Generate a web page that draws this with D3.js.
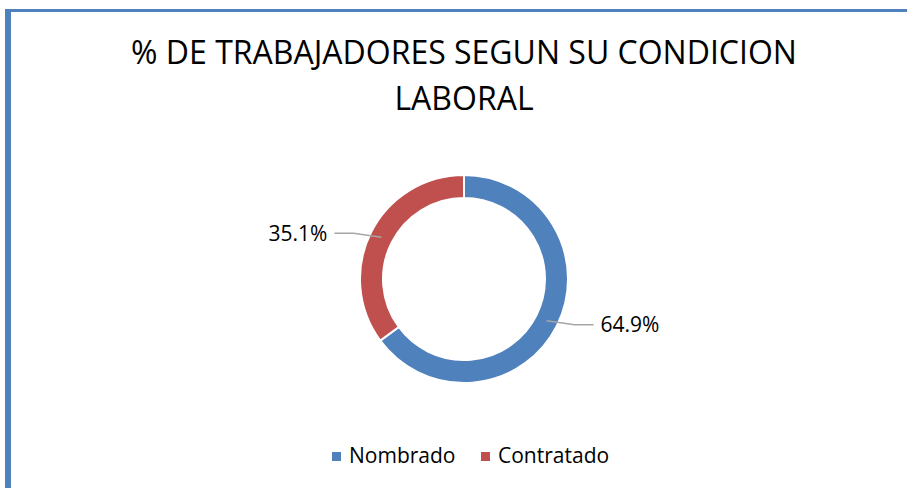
<!DOCTYPE html>
<html>
<head>
<meta charset="utf-8">
<script src="https://cdn.jsdelivr.net/npm/d3@7"></script>
<style>
  body { margin: 0; background: #fff; }
  svg { display: block; font-family: "Open Sans", sans-serif; }
</style>
</head>
<body>
<div id="plot"></div>
<script>
// data
var categories = ['Nombrado', 'Contratado'];
var values = [64.9, 35.1];
var labels = ['64.9%', '35.1%'];
var colors = ['#4f81bd', '#c0504d'];
var titleLines = ['% DE TRABAJADORES SEGUN SU CONDICION', 'LABORAL'];

var width = 907, height = 488;
var cx = 464, cy = 279;
var rOuter = 104, rInner = 81;

var svg = d3.select('#plot')
  .append('svg')
  .attr('width', width)
  .attr('height', height);

// frame (only top and left edges show)
svg.append('rect')
  .attr('x', 5).attr('y', 9)
  .attr('width', 902).attr('height', 3)
  .style('fill', '#4f81bd');
svg.append('rect')
  .attr('x', 5).attr('y', 9)
  .attr('width', 6).attr('height', height - 9)
  .style('fill', '#4f81bd');

// title
svg.selectAll('text.title')
  .data(titleLines)
  .enter()
  .append('text')
  .attr('class', 'title')
  .attr('x', cx)
  .attr('y', function (d, i) { return 64 + i * 46; })
  .attr('text-anchor', 'middle')
  .style('font-size', '32px')
  .style('fill', '#000')
  .text(function (d) { return d; });

var pie = d3.pie().sort(null).value(function (d) { return d; });
var arcs = pie(values);

var arc = d3.arc().innerRadius(rInner).outerRadius(rOuter);
var mid = d3.arc().innerRadius((rInner + rOuter) / 2).outerRadius((rInner + rOuter) / 2);

var g = svg.append('g').attr('transform', 'translate(' + cx + ',' + cy + ')');

g.selectAll('path.slice')
  .data(arcs)
  .enter()
  .append('path')
  .attr('class', 'slice')
  .attr('d', arc)
  .style('fill', function (d, i) { return colors[i]; })
  .style('stroke', '#fff')
  .style('stroke-width', 2);

// leader lines + labels
arcs.forEach(function (d, i) {
  var p = mid.centroid(d);
  var side = p[0] > 0 ? 1 : -1;
  var p1 = [p[0] + side * 28, p[1] + (p[1] > 0 ? 4 : -4)];
  var p2 = [p1[0] + side * 19, p1[1]];
  g.append('path')
    .attr('d', d3.line()([p, p1, p2]))
    .style('fill', 'none')
    .style('stroke', '#a6a6a6')
    .style('stroke-width', 1.5);
  g.append('text')
    .attr('x', p2[0] + side * 7)
    .attr('y', p2[1])
    .attr('dy', '0.35em')
    .attr('text-anchor', side > 0 ? 'start' : 'end')
    .style('font-size', '21px')
    .style('fill', '#000')
    .text(labels[i]);
});

// legend
var legend = svg.append('g').attr('transform', 'translate(332,452)');
var item = legend.selectAll('g')
  .data(categories)
  .enter()
  .append('g')
  .attr('transform', function (d, i) { return 'translate(' + (i * 149) + ',0)'; });
item.append('rect')
  .attr('width', 9).attr('height', 9)
  .style('fill', function (d, i) { return colors[i]; });
item.append('text')
  .attr('x', 17)
  .attr('y', 11)
  .style('font-size', '21px')
  .style('fill', '#000')
  .text(function (d) { return d; });
</script>
</body>
</html>
